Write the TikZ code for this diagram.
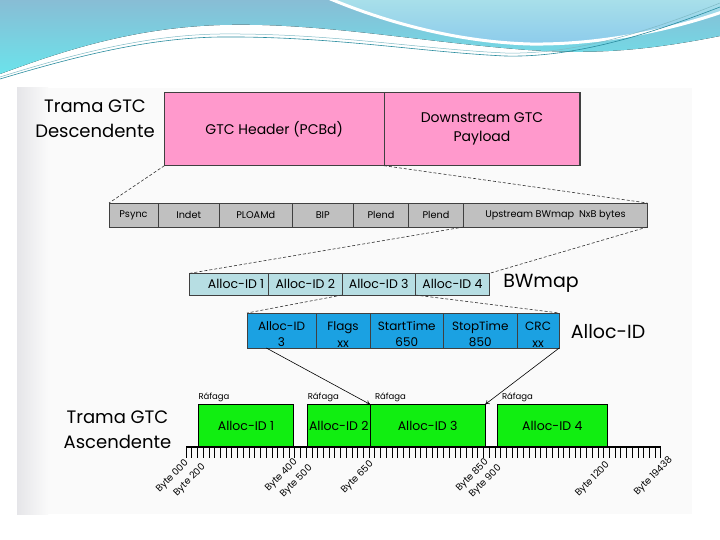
\documentclass[tikz,border=0pt]{standalone}
\usepackage{fontspec}
\setmainfont{Poppins}
\usetikzlibrary{arrows.meta,calc}

\definecolor{pinkbox}{HTML}{FF99CC}
\definecolor{graybox}{HTML}{C0C0C0}
\definecolor{bwbox}{HTML}{B7DEE3}
\definecolor{allocbox}{HTML}{1BA1E2}
\definecolor{burst}{HTML}{11EE11}
\definecolor{waveA}{HTML}{88BDD5}
\definecolor{waveB}{HTML}{6BE3EB}
\definecolor{waveC}{HTML}{A9E0EA}
\definecolor{waveD}{HTML}{8CCBEB}
\definecolor{waveline}{HTML}{2A8C9E}

% two-line field text, pushed a little down in its cell
\newcommand\fieldtxt[2]{\mbox{}\\#1\\#2}

\begin{document}
\begin{tikzpicture}[
	x=1pt, y=-1pt,
	every node/.style={inner sep=0pt, outer sep=0pt},
	cell/.style={draw=black!75, line width=0.9pt, minimum height=#1, align=center},
	hdrcell/.style={cell=73.4, fill=pinkbox, font=\fontsize{14}{19}\selectfont},
	gcell/.style={cell=24, fill=graybox, font=\fontsize{9.7}{12}\selectfont},
	bwcell/.style={cell=21.7, fill=bwbox, font=\fontsize{12.5}{14}\selectfont},
	fcell/.style={cell=35, fill=allocbox, font=\fontsize{12}{16.5}\selectfont},
	gburst/.style={draw=black, line width=1pt, fill=burst, minimum height=43, font=\fontsize{12.5}{14}\selectfont},
	title/.style={font=\fontsize{18}{25}\selectfont, align=center},
	rafaga/.style={anchor=south west, font=\fontsize{8.5}{10}\selectfont},
	bytelab/.style={anchor=east, rotate=45, font=\fontsize{9.5}{11}\selectfont},
	zoomline/.style={dashed, dash pattern=on 3pt off 2pt, line width=0.6pt, black!80},
	maps/.style={line width=0.6pt, -{To[length=4pt,width=5pt]}},
	tick/.style={line width=0.6pt},
	]

	\useasboundingbox (0,0) rectangle (720,540);

	% --- slide background and top wave ---
	\fill[black!2] (17,88) rectangle (692,514);
	\fill[left color=blue!12!black!10, right color=black!2] (17,88) rectangle (48,514);
	\fill[top color=waveA, bottom color=waveB] (0,0) -- (720,0) -- (720,36)
		.. controls (640,52) and (590,54) .. (528,50)
		.. controls (420,42) and (320,22) .. (220,25)
		.. controls (130,28) and (60,52) .. (0,74) -- cycle;
	\fill[top color=waveC, bottom color=waveD, draw=white, line width=3pt] (328,-2)
		.. controls (390,24) and (460,42) .. (530,44)
		.. controls (600,45) and (670,30) .. (722,12) -- (722,-2) -- cycle;
	\draw[waveline, line width=0.6pt] (0,79) .. controls (80,55) and (150,38) .. (220,37)
		.. controls (330,36) and (420,52) .. (505,56) .. controls (580,58) and (660,30) .. (720,7);
	\draw[waveline!60, line width=0.5pt] (0,77) .. controls (80,52) and (150,35) .. (220,34)
		.. controls (330,33) and (420,49) .. (505,53) .. controls (580,55) and (660,27) .. (720,3);

	% --- downstream frame ---
	\node[title] (tdown) at (95,119) {Trama GTC\\Descendente};
	\node[hdrcell, minimum width=219.6] (hdr) at (274.2,129) {GTC Header (PCBd)};
	\node[hdrcell, minimum width=196] (pay) at (482,129) {Downstream GTC\\Payload};
	\draw[black!75, line width=1.4pt] (hdr.north west) rectangle (pay.south east);

	% --- PCBd fields ---
	\node[gcell, minimum width=49] (psync) at (133.5,215) {Psync};
	\node[gcell, minimum width=61.5] (indet) at (188.75,215) {Indet};
	\node[gcell, minimum width=72.5] (ploam) at (255.75,215) {PLOAMd};
	\node[gcell, minimum width=61.5] (bip) at (322.75,215) {BIP};
	\node[gcell, minimum width=55] (plenda) at (381,215) {Plend};
	\node[gcell, minimum width=55] (plendb) at (436,215) {Plend};
	\node[gcell, minimum width=183.7] (ups) at (555.5,215) {Upstream BWmap\enspace NxB bytes};

	% --- BWmap ---
	\node[bwcell, minimum width=79] (bw1) at (229.1,284.2) {\hspace*{14pt}Alloc-ID 1};
	\node[bwcell, minimum width=73.4] (bw2) at (305.3,284.2) {Alloc-ID 2};
	\node[bwcell, minimum width=73.5] (bw3) at (378.75,284.2) {Alloc-ID 3};
	\node[bwcell, minimum width=73.9] (bw4) at (452.45,284.2) {Alloc-ID 4};
	\node[title, font=\fontsize{19}{24}\selectfont] (tbw) at (541,283) {BWmap};

	% --- Alloc-ID structure ---
	\node[fcell, minimum width=69] (fid) at (281.5,330.5) {\fieldtxt{Alloc-ID}{3}};
	\node[fcell, minimum width=54] (fflag) at (343,330.5) {\fieldtxt{Flags}{xx}};
	\node[fcell, minimum width=73.5] (fstart) at (406.75,330.5) {\fieldtxt{StartTime}{650}};
	\node[fcell, minimum width=73.5] (fstop) at (480.25,330.5) {\fieldtxt{StopTime}{850}};
	\node[fcell, minimum width=42.2] (fcrc) at (538.1,330.5) {\fieldtxt{CRC}{xx}};
	\node[title, font=\fontsize{19}{24}\selectfont] (talloc) at (608,332) {Alloc-ID};

	% zoom lines
	\draw[zoomline] (hdr.south west) -- (psync.north west) (hdr.south east) -- (ups.north east);
	\draw[zoomline] (ups.south west) -- (bw1.north west) (ups.south east) -- (bw4.north east);
	\draw[zoomline] (bw3.south west) -- (fid.north west) (bw3.south east) -- (fcrc.north east);

	% --- upstream frame ---
	\node[title] (tup) at (117.5,430) {Trama GTC\\Ascendente};
	\node[gburst, minimum width=95.5] (g1) at (246,425.8) {Alloc-ID 1};
	\node[gburst, minimum width=62.4] (g2) at (338.8,425.8) {Alloc-ID 2};
	\node[gburst, minimum width=115.3] (g3) at (427.65,425.8) {Alloc-ID 3};
	\node[gburst, minimum width=110.2] (g4) at (552.3,425.8) {Alloc-ID 4};

	\node[rafaga] (r1) at (198.5,402) {Ráfaga};
	\node[rafaga] (r2) at (307.8,402) {Ráfaga};
	\node[rafaga] (r3) at (375,402) {Ráfaga};
	\node[rafaga] (r4) at (502,402) {Ráfaga};

	\draw[maps] ($(fid.south west)!0.28!(fid.south east)$) -- (g3.north west);
	\draw[maps] (fcrc.south east) -- (g3.north east);

	% byte axis
	\coordinate (ax0) at (186,447.3);
	\coordinate (ax1) at (661,447.3);
	\foreach \i in {0,...,83}
		\draw[tick] ($(ax0)+(\i*5.72,0)$) -- ++(0,11);
	\draw[line width=1.8pt] (ax0) -- (ax1);

	\foreach \x/\y/\t in {187/462/000, 204/466/200, 296/461/400, 311/467/500, 372/463/650,
			487/461/850, 500/467/900, 608/464/1200, 671/459/19438}
		\node[bytelab] (b\t) at (\x,\y) {Byte \t};

\end{tikzpicture}
\end{document}
